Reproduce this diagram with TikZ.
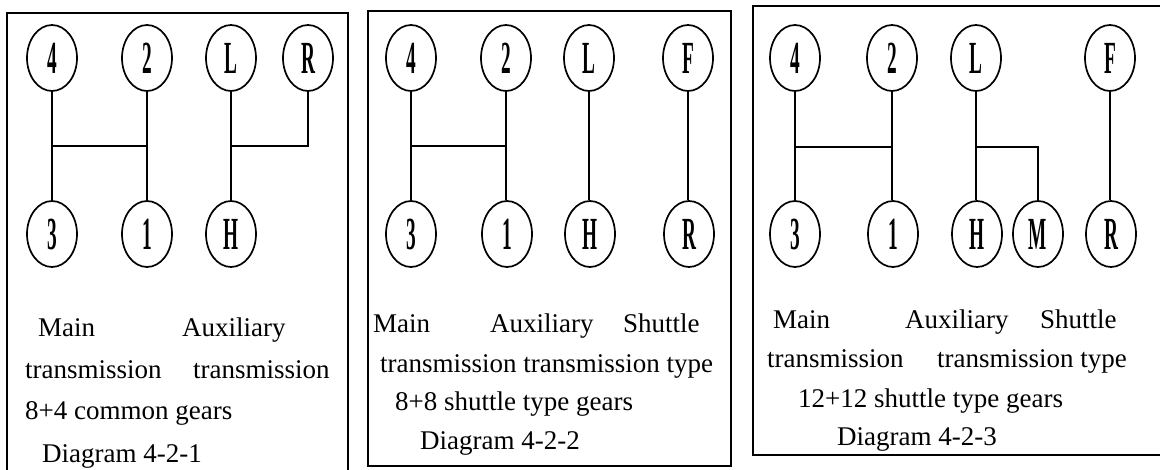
\documentclass[tikz,border=0pt]{standalone}
\usepackage{fontspec}
\usepackage{graphicx}
\setmainfont{Liberation Serif}
\usetikzlibrary{shapes.geometric}
\newcommand\gearlabel[1]{\scalebox{0.42}[1]{#1}}
\tikzset{
  gear/.style={ellipse, draw, line width=1.7pt, minimum width=50pt, minimum height=66pt, inner sep=0pt,
    font=\fontsize{46}{46}\selectfont\bfseries},
  link/.style={line width=1.7pt},
  panel/.style={line width=1.6pt},
  captxt/.style={anchor=base west, inner sep=0pt, font=\fontsize{27}{27}\selectfont}
}
\begin{document}
\begin{tikzpicture}[x=1pt,y=-1pt]
\useasboundingbox (0,0) rectangle (1160,470);
\begin{scope}
\clip (0,0) rectangle (1160,470);
% panels
\draw[panel] (7,13) rectangle (348,490);
\draw[panel] (368,11) rectangle (731,466);
\draw[panel] (753,6) rectangle (1180,455);
\end{scope}

% ---------- panel 1 ----------
\node[gear] (a4) at (52,58) {\gearlabel{4}};
\node[gear] (a2) at (147,58) {\gearlabel{2}};
\node[gear] (aL) at (231,58) {\gearlabel{L}};
\node[gear] (aR) at (308,58) {\gearlabel{R}};
\node[gear] (a3) at (52,234) {\gearlabel{3}};
\node[gear] (a1) at (147,234) {\gearlabel{1}};
\node[gear] (aH) at (231,234) {\gearlabel{H}};
\coordinate (abar) at (0,146);
\draw[link] (a4) -- (a3);
\draw[link] (a2) -- (a1);
\draw[link] (aL) -- (aH);
\draw[link] (a4.south |- abar) -- (a2.south |- abar);
\draw[link] (aR.south) |- (aL.south |- abar);

\node[captxt] (t1a) at (38,337) {Main};
\node[captxt] (t1b) at (182,337) {Auxiliary};
\node[captxt] (t1c) at (25,379) {transmission};
\node[captxt] (t1d) at (193,379) {transmission};
\node[captxt] (t1e) at (25,419) {8+4 common gears};
\node[captxt] (t1f) at (42,462) {Diagram 4-2-1};

% ---------- panel 2 ----------
\node[gear] (b4) at (411,58) {\gearlabel{4}};
\node[gear] (b2) at (506,58) {\gearlabel{2}};
\node[gear] (bL) at (589,58) {\gearlabel{L}};
\node[gear] (bF) at (688,58) {\gearlabel{F}};
\node[gear] (b3) at (411,234) {\gearlabel{3}};
\node[gear] (b1) at (507,234) {\gearlabel{1}};
\node[gear] (bH) at (590,234) {\gearlabel{H}};
\node[gear] (bR) at (689,234) {\gearlabel{R}};
\coordinate (bbar) at (0,146);
\draw[link] (b4) -- (b3);
\draw[link] (b2.south) -- (b2.south |- b1.north);
\draw[link] (bL.south) -- (bL.south |- bH.north);
\draw[link] (bF.south) -- (bF.south |- bR.north);
\draw[link] (b4.south |- bbar) -- (b2.south |- bbar);

\node[captxt] (t2a) at (373,333) {Main};
\node[captxt] (t2b) at (490,333) {Auxiliary};
\node[captxt] (t2c) at (623,333) {Shuttle};
\node[captxt] (t2d) at (380,373) {transmission transmission type};
\node[captxt] (t2e) at (395,410) {8+8 shuttle type gears};
\node[captxt] (t2f) at (420,449) {Diagram 4-2-2};

% ---------- panel 3 ----------
\node[gear] (c4) at (795,58) {\gearlabel{4}};
\node[gear] (c2) at (892,58) {\gearlabel{2}};
\node[gear] (cL) at (976,58) {\gearlabel{L}};
\node[gear] (cF) at (1110,58) {\gearlabel{F}};
\node[gear] (c3) at (795,234) {\gearlabel{3}};
\node[gear] (c1) at (893,234) {\gearlabel{1}};
\node[gear] (cH) at (977,234) {\gearlabel{H}};
\node[gear] (cM) at (1038,234) {\gearlabel{M}};
\node[gear] (cR) at (1111,234) {\gearlabel{R}};
\coordinate (cbar) at (0,147);
\draw[link] (c4) -- (c3);
\draw[link] (c2.south) -- (c2.south |- c1.north);
\draw[link] (cL.south) -- (cL.south |- cH.north);
\draw[link] (cF.south) -- (cF.south |- cR.north);
\draw[link] (c4.south |- cbar) -- (c2.south |- cbar);
\draw[link] (cL.south |- cbar) -| (cM.north);

\node[captxt] (t3a) at (773,329) {Main};
\node[captxt] (t3b) at (905,329) {Auxiliary};
\node[captxt] (t3c) at (1040,329) {Shuttle};
\node[captxt] (t3d) at (767,368) {transmission};
\node[captxt] (t3e) at (937,368) {transmission type};
\node[captxt] (t3f) at (798,407) {12+12 shuttle type gears};
\node[captxt] (t3g) at (837,446) {Diagram 4-2-3};
\end{tikzpicture}
\end{document}
